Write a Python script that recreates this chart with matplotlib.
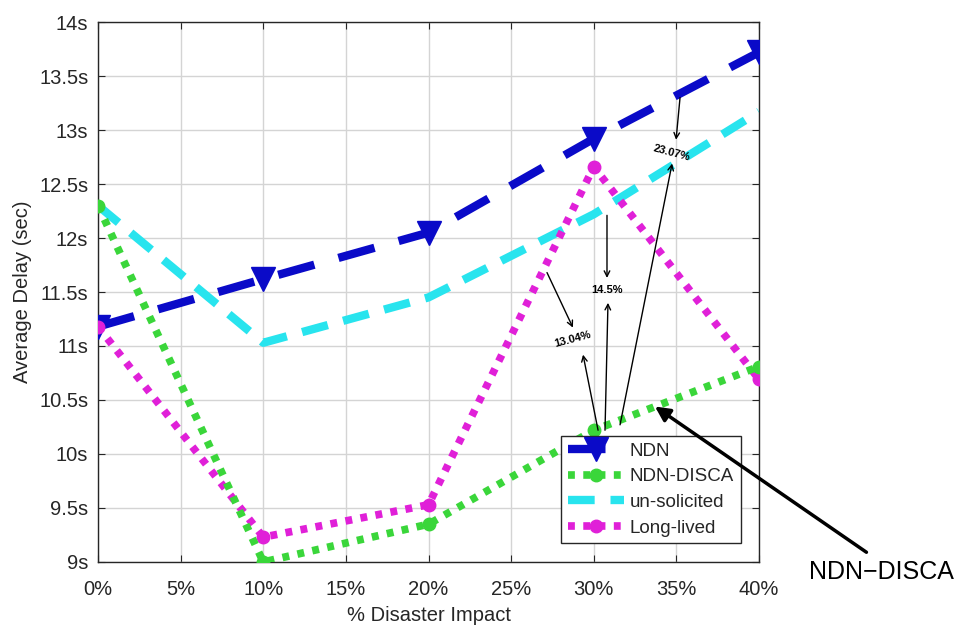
import matplotlib
matplotlib.use("Agg")
import matplotlib.pyplot as plt
from matplotlib.ticker import FuncFormatter

plt.rcParams['font.family'] = ['Liberation Sans', 'DejaVu Sans']

# Disaster impact levels (%)
impact = [0, 10, 20, 30, 40]
ndn = [11.18, 11.62, 12.05, 12.92, 13.72]
ndn_disca = [12.30, 9.00, 9.35, 10.22, 10.81]
unsolicited = [12.30, 11.03, 11.45, 12.22, 13.17]
long_lived = [11.18, 9.23, 9.53, 12.66, 10.69]

x_ticks = [0, 5, 10, 15, 20, 25, 30, 35, 40]
y_ticks = [9, 9.5, 10, 10.5, 11, 11.5, 12, 12.5, 13, 13.5, 14]

fig = plt.figure(figsize=(9.62, 6.30), dpi=100)
ax = fig.add_axes([0.1019, 0.108, 0.6871, 0.857])

ax.plot(impact, ndn, color='#0a0ac8', lw=6, ls=(0, (4.5, 3.0)),
        marker='v', ms=17, label='NDN', zorder=3)
ax.plot(impact, ndn_disca, color='#3ad63a', lw=5.5, ls=(0, (0.9, 1.1)),
        marker='o', ms=9, label='NDN-DISCA', zorder=4)
ax.plot(impact, unsolicited, color='#28e4ee', lw=6, ls=(0, (3.2, 1.9)),
        label='un-solicited', zorder=2)
ax.plot(impact, long_lived, color='#e020d8', lw=5.5, ls=(0, (0.9, 1.1)),
        marker='o', ms=9, label='Long-lived', zorder=3)

ax.set_xlim(0, 40)
ax.set_ylim(9, 14)
ax.set_xticks(x_ticks)
ax.set_yticks(y_ticks)
ax.xaxis.set_major_formatter(FuncFormatter(lambda v, p: f"{v:g}%"))
ax.yaxis.set_major_formatter(FuncFormatter(lambda v, p: f"{v:g}s"))
ax.tick_params(direction='in', length=5, top=True, right=True,
               labelsize=14.5, colors='#262626')
ax.tick_params(axis='x', pad=13)
ax.tick_params(axis='y', pad=7)
ax.grid(True, color='#d4d4d4', lw=1)
for s in ax.spines.values():
    s.set_color('#262626')
    s.set_linewidth(1)

ax.set_xlabel('% Disaster Impact', fontsize=14.5, color='#262626', labelpad=5)
ax.set_ylabel('Average Delay (sec)', fontsize=14.5, color='#262626', labelpad=5)

# Improvement annotations
thin = dict(arrowstyle='->', color='black', lw=1.0, shrinkA=0, shrinkB=0)
arrows = [
    ((35.22, 13.30), (34.98, 12.91)),
    ((31.59, 10.27), (34.74, 12.69)),
    ((30.80, 12.21), (30.80, 11.63)),
    ((30.68, 10.22), (30.86, 11.40)),
    ((27.17, 11.68), (28.74, 11.17)),
    ((30.26, 10.22), (29.35, 10.92)),
]
for start, end in arrows:
    ax.annotate('', xy=end, xytext=start, arrowprops=thin, zorder=5)

ax.text(34.74, 12.79, '23.07%', fontsize=8, fontweight='bold', rotation=-15,
        ha='center', va='center', zorder=6)
ax.text(30.8, 11.52, '14.5%', fontsize=8, fontweight='bold',
        ha='center', va='center', zorder=6)
ax.text(28.74, 11.06, '13.04%', fontsize=8, fontweight='bold', rotation=15,
        ha='center', va='center', zorder=6)

leg = ax.legend(loc='lower right', bbox_to_anchor=(0.972, 0.035), fontsize=13.5,
                handlelength=3.0, handletextpad=0.3, borderpad=0.35,
                labelspacing=0.45, fancybox=False, framealpha=1,
                edgecolor='#262626', borderaxespad=0)
leg.get_frame().set_linewidth(1)
for t in leg.get_texts():
    t.set_color('#262626')

ax.annotate('', xy=(33.7, 10.44), xytext=(46.5, 9.09),
            arrowprops=dict(arrowstyle='-|>', color='black', lw=2.5,
                            mutation_scale=22, shrinkA=0, shrinkB=0),
            annotation_clip=False, zorder=7)
ax.text(47.4, 8.91, 'NDN\u2212DISCA', fontsize=18, ha='center', va='center',
        clip_on=False)

fig.savefig('out.png', dpi=100, facecolor='white')
